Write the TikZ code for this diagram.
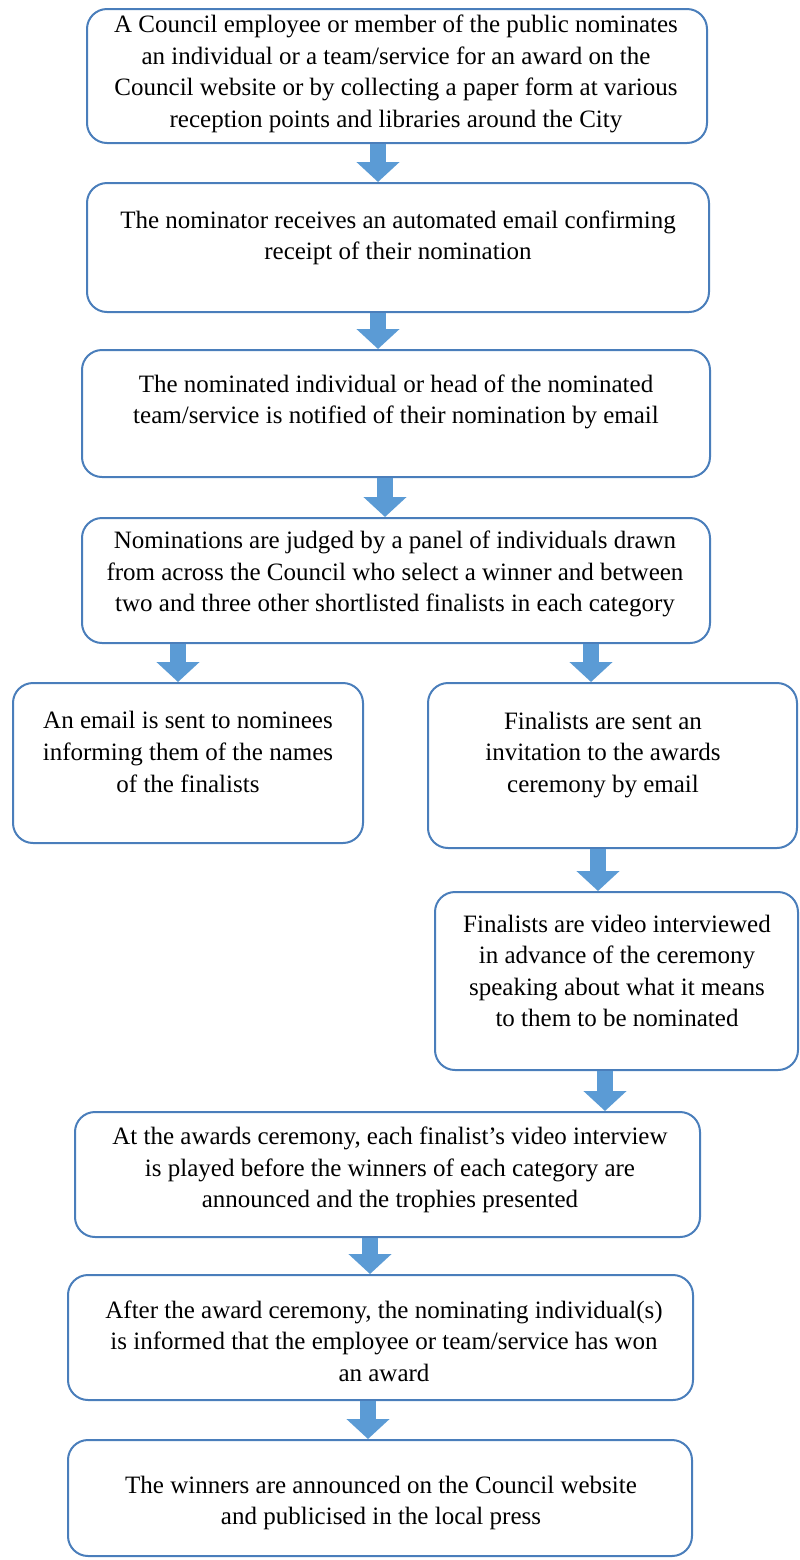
\documentclass[tikz,border=0pt]{standalone}
\usepackage{fontspec}
\setmainfont{Liberation Serif}
\usetikzlibrary{arrows.meta,fit,positioning,calc}
\definecolor{boxline}{HTML}{4A7EBB}
\definecolor{arrowfill}{HTML}{5B9BD5}
\tikzset{
  stepbox/.style={draw=boxline,line width=1pt,rounded corners=10pt,inner sep=0pt},
  steptext/.style={align=center,inner sep=0pt,font=\fontsize{12.5}{15.8}\selectfont},
  flow/.style={draw=arrowfill,line width=8pt,-{Triangle[width=21pt,length=10pt]}}
}
\begin{document}
\begin{tikzpicture}[x=0.5pt,y=-0.5pt]
\useasboundingbox (0,0) rectangle (799,1560);
% Step 1: nomination
\node[stepbox,fit={(87,9) (707,143)}] (b1) {};
\node[steptext] (t1) at (396,74) {A Council employee or member of the public nominates\\an individual or a team/service for an award on the\\Council website or by collecting a paper form at various\\reception points and libraries around the City};
% Step 2: confirmation
\node[stepbox,fit={(87,183) (709,312)}] (b2) {};
\node[steptext] (t2) at (398,238) {The nominator receives an automated email confirming\\receipt of their nomination};
% Step 3: notification
\node[stepbox,fit={(82,350) (710,477)}] (b3) {};
\node[steptext] (t3) at (396,402) {The nominated individual or head of the nominated\\team/service is notified of their nomination by email};
% Step 4: judging
\node[stepbox,fit={(82,518) (710,643)}] (b4) {};
\node[steptext] (t4) at (395,574) {Nominations are judged by a panel of individuals drawn\\from across the Council who select a winner and between\\two and three other shortlisted finalists in each category};
% Step 5: nominees / finalists
\node[stepbox,fit={(13,683) (363,843)}] (b5l) {};
\node[steptext] (t5l) at (188,752) {An email is sent to nominees\\informing them of the names\\of the finalists};
\node[stepbox,fit={(428,683) (797,848)}] (b5r) {};
\node[steptext] (t5r) at (603,755) {Finalists are sent an\\invitation to the awards\\ceremony by email};
% Step 6: video interviews
\node[stepbox,fit={(435,892) (798,1070)}] (b6) {};
\node[steptext] (t6) at (617,971) {Finalists are video interviewed\\in advance of the ceremony\\speaking about what it means\\to them to be nominated};
% Step 7: ceremony
\node[stepbox,fit={(75,1112) (700,1237)}] (b7) {};
\node[steptext] (t7) at (390,1170) {At the awards ceremony, each finalist’s video interview\\is played before the winners of each category are\\announced and the trophies presented};
% Step 8: informing nominators
\node[stepbox,fit={(68,1275) (693,1400)}] (b8) {};
\node[steptext] (t8) at (384,1341) {After the award ceremony, the nominating individual(s)\\is informed that the employee or team/service has won\\an award};
% Step 9: publicity
\node[stepbox,fit={(68,1440) (692,1556)}] (b9) {};
\node[steptext] (t9) at (381,1503) {The winners are announced on the Council website\\and publicised in the local press};
% Arrows
\coordinate (a1) at (378,0);
\coordinate (a2) at (378,0);
\coordinate (a3) at (385,0);
\coordinate (a4l) at (178,0);
\coordinate (a4r) at (591,0);
\coordinate (a5) at (598,0);
\coordinate (a6) at (605,0);
\coordinate (a7) at (370,0);
\coordinate (a8) at (368,0);
\draw[flow] (b1.south -| a1) -- (b2.north -| a1);
\draw[flow] (b2.south -| a2) -- (b3.north -| a2);
\draw[flow] (b3.south -| a3) -- (b4.north -| a3);
\draw[flow] (b4.south -| a4l) -- (b5l.north -| a4l);
\draw[flow] (b4.south -| a4r) -- (b5r.north -| a4r);
\draw[flow] (b5r.south -| a5) -- (b6.north -| a5);
\draw[flow] (b6.south -| a6) -- (b7.north -| a6);
\draw[flow] (b7.south -| a7) -- (b8.north -| a7);
\draw[flow] (b8.south -| a8) -- (b9.north -| a8);
\end{tikzpicture}
\end{document}
